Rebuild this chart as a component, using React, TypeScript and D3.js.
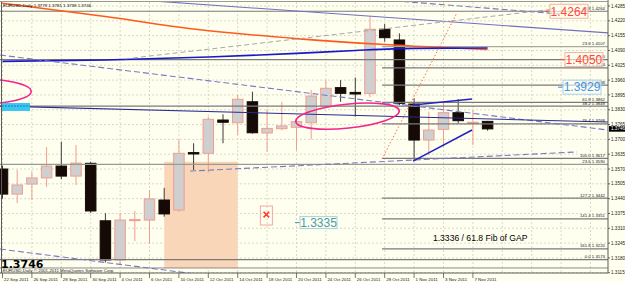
import React from 'react';
import * as d3 from 'd3';

const W = 625;
const H = 282;

// ---- data ----
const barDates = ['22 Sep','23 Sep','26 Sep','27 Sep','28 Sep','29 Sep','30 Sep','3 Oct','4 Oct','5 Oct','6 Oct','7 Oct','10 Oct','11 Oct','12 Oct','13 Oct','14 Oct','17 Oct','18 Oct','19 Oct','20 Oct','21 Oct','24 Oct','25 Oct','26 Oct','27 Oct','28 Oct','31 Oct','1 Nov','2 Nov','3 Nov','4 Nov','7 Nov','8 Nov'];
const opens = [1.3570,1.3460,1.3504,1.3531,1.3583,1.3539,1.3595,1.3343,1.3171,1.3344,1.3346,1.3434,1.3390,1.3642,1.3639,1.3785,1.3773,1.3865,1.3728,1.3747,1.3753,1.3773,1.3846,1.3927,1.3906,1.3902,1.4183,1.4136,1.3855,1.3697,1.3744,1.3817,1.3772,1.3779];
const highs = [1.3585,1.3566,1.3557,1.3667,1.3690,1.3675,1.3602,1.3376,1.3377,1.3386,1.3478,1.3487,1.3700,1.3683,1.3799,1.3810,1.3895,1.3909,1.3832,1.3865,1.3790,1.3917,1.3960,1.3960,1.3971,1.4241,1.4206,1.4165,1.3880,1.3821,1.3861,1.3876,1.3829,1.3781];
const lows = [1.3440,1.3420,1.3434,1.3491,1.3526,1.3500,1.3377,1.3160,1.3150,1.3254,1.3241,1.3361,1.3382,1.3566,1.3554,1.3683,1.3719,1.3725,1.3646,1.3740,1.3653,1.3700,1.3838,1.3865,1.3800,1.3885,1.4128,1.3850,1.3605,1.3632,1.3668,1.3770,1.3675,1.3738];
const closes = [1.3460,1.3500,1.3531,1.3583,1.3539,1.3596,1.3386,1.3171,1.3346,1.3348,1.3439,1.3373,1.3639,1.3636,1.3788,1.3775,1.3876,1.3729,1.3748,1.3759,1.3778,1.3890,1.3924,1.3902,1.3899,1.4183,1.4146,1.3858,1.3697,1.3741,1.3817,1.3782,1.3775,1.3746];

const redMaIdx = [0, 7, 13, 20, 26, 33];
const redMaVal = [1.4297, 1.4239, 1.4184, 1.4142, 1.4116, 1.4094];
const blueMaIdx = [0, 7, 14, 20, 24, 28, 33];
const blueMaVal = [1.4042, 1.4048, 1.4061, 1.4077, 1.4090, 1.4099, 1.4101];

const timeLabelIdx = [0,2,4,6,8,10,12,14,16,18,20,22,24,26,28,30,32];
const timeLabels = ['22 Sep 2011','26 Sep 2011','28 Sep 2011','30 Sep 2011','4 Oct 2011','6 Oct 2011','10 Oct 2011','12 Oct 2011','14 Oct 2011','18 Oct 2011','20 Oct 2011','24 Oct 2011','26 Oct 2011','28 Oct 2011','1 Nov 2011','3 Nov 2011','7 Nov 2011'];
const gridIdx = [0,2,4,6,8,10,12,14,16,18,20,22,24,26,28,30,32,34,36,38,40];
const priceTicks = [1.4285,1.4220,1.4155,1.4090,1.4025,1.3960,1.3895,1.3830,1.3765,1.3700,1.3635,1.3570,1.3505,1.3440,1.3375,1.3310,1.3245,1.3180,1.3115];

const fullLevelLabels = ['61.8 1.4264','50.0 1.4050','38.2 1.3849','23.6 1.3590','0.0 1.3173'];
const fullLevelPrices = [1.4262, 1.4050, 1.3846, 1.3590, 1.3173];
const fibStartIdx = 25.82;
const fibLabels = ['23.6 1.4107','38.2 1.4014','50.0 1.3938','61.8 1.3862','76.4 1.3768','100.0 1.3617','127.2 1.3442','141.4 1.3351','161.8 1.3220'];
const fibPrices = [1.4107, 1.4014, 1.3938, 1.3862, 1.3768, 1.3617, 1.3442, 1.3351, 1.3220];
const plainLevelPrices = [1.3136];

// trend lines: [i1, p1, i2, p2]
const trendUpperSolid = [9.35, 1.4311, 41.19, 1.4167];
const trendChannelUpper = [-0.17, 1.4070, 41.19, 1.3741];
const trendChannelLower = [-0.17, 1.3219, 13.44, 1.3107];
const trendLowerDashed = [12.76, 1.3561, 39.08, 1.3645];
const trendMid = [-0.17, 1.3846, 41.19, 1.3776];
const trendGrayRising = [8.33, 1.4053, 37.59, 1.4272];
const trendTopDashed = [26.02, 1.4311, 37.93, 1.4250];
const chanUp = [27.93, 1.3851, 31.94, 1.3877];
const chanLow = [27.93, 1.3605, 31.94, 1.3741];
const fibDiagonal = [25.82, 1.3614, 30.92, 1.4256];

// ellipses: [centerIdx, centerPrice, rxBars, ryPrice, rotationDeg]
const ellipseLeft = [-2.0, 1.3910, 3.95, 0.0057, 0];
const ellipseMid = [23.47, 1.3802, 3.54, 0.00526, -6];

// rectangle zone [i1, i2, pTop, pBottom]
const zoneRect = [11, 16, 1.3602, 1.3136];

// price label boxes
const boxTexts = ['1.4264', '1.4050', '1.3929', '1.3335'];
const boxIdx = [37.24, 38.26, 38.13, 20.24];
const boxPrices = [1.4262, 1.4050, 1.3929, 1.3335];

const markIdx = 17.95;
const markPrice = 1.3366;
const gapText = '1.3336 / 61.8 Fib of GAP';
const gapIdx = 29.28;
const gapPrice = 1.3254;
const cyanPrice = 1.3842;
const lastPrice = 1.3746;
const titleText = 'EURUSD,Daily  1.3779 1.3781 1.3738 1.3746';
const copyrightText = 'EURUSD,Daily \u00A9 2001-2011 MetaQuotes Software Corp.';

const FONT = 'Liberation Sans, Arial, sans-serif';

export default function App() {
  const L = 0, R = 608, T = 2, B = 273;
  const x = d3.scaleLinear().domain([0, 33]).range([2.5, 2.5 + 14.7 * 33]);
  const y = d3.scaleLinear().domain([1.3115, 1.4285]).range([272.76, 6]);
  const bw = 10.5;
  const seg = (t: number[]) => d3.line<number[]>().x(d => x(d[0])).y(d => y(d[1]))([[t[0], t[1]], [t[2], t[3]]]) || '';
  const ma = (idx: number[], val: number[]) =>
    d3.line<number>().x((_, k) => x(idx[k])).y(d => y(d)).curve(d3.curveMonotoneX)(val) || '';

  const ellipse = (e: number[], key: string) => {
    const cx = x(e[0]), cy = y(e[1]);
    const rx = x(e[0] + e[2]) - cx;
    const ry = y(e[1] - e[3]) - cy;
    return <ellipse key={key} cx={cx} cy={cy} rx={rx} ry={ry} transform={`rotate(${e[4]} ${cx} ${cy})`} fill="none" stroke="#F2268C" strokeWidth={1.6} />;
  };

  const boxStyles = [
    { color: '#FF4A3A', border: '#F6B0A4' },
    { color: '#FF4A3A', border: '#F6B0A4' },
    { color: '#3A94EE', border: '#A6CCF4' },
    { color: '#4A9AA8', border: '#A6D2DA' },
  ];

  return (
    <div style={{ position: 'absolute', left: 0, top: 0 }}>
      <svg width={W} height={H} style={{ display: 'block', background: '#FFFFF0' }} fontFamily={FONT}>
        <defs>
          <clipPath id="plot">
            <rect x={L} y={T} width={R - L} height={B - T} />
          </clipPath>
        </defs>
        <rect x={0} y={0} width={W} height={H} fill="#FFFFF0" />
        <g clipPath="url(#plot)">
          {/* grid */}
          {gridIdx.map(i => (
            <line key={'gx' + i} x1={x(i)} x2={x(i)} y1={T} y2={B} stroke="#CFCFC0" strokeWidth={0.8} strokeDasharray="2,2" />
          ))}
          {priceTicks.map(p => (
            <line key={'gy' + p} x1={L} x2={R} y1={y(p)} y2={y(p)} stroke="#CFCFC0" strokeWidth={0.8} strokeDasharray="2,2" />
          ))}
          {/* zone */}
          <rect x={x(zoneRect[0])} y={y(zoneRect[2])} width={x(zoneRect[1]) - x(zoneRect[0])} height={y(zoneRect[3]) - y(zoneRect[2])} fill="#FAD6B8" />
          {/* candles */}
          {opens.map((o, i) => {
            const c = closes[i];
            const bull = c >= o;
            const cx = x(i);
            const top = y(Math.max(o, c));
            const bot = y(Math.min(o, c));
            const h = Math.max(1, bot - top);
            return (
              <g key={'c' + barDates[i]}>
                <line x1={cx} x2={cx} y1={y(highs[i])} y2={y(lows[i])} stroke={bull ? '#F29C90' : '#3A3A3A'} strokeWidth={1} />
                <rect x={cx - bw / 2} y={top} width={bw} height={h} fill={bull ? '#CFCFCF' : '#150A05'} stroke={bull ? '#F29C90' : '#150A05'} strokeWidth={1} />
              </g>
            );
          })}
          {/* horizontal levels */}
          {fullLevelPrices.map((p, k) => (
            <line key={'fl' + k} x1={L} x2={R} y1={y(p)} y2={y(p)} stroke={k === 3 ? '#9A9A94' : '#7A7A7A'} strokeWidth={1.2} />
          ))}
          {plainLevelPrices.map((p, k) => (
            <line key={'pl' + k} x1={L} x2={R} y1={y(p)} y2={y(p)} stroke="#8A8A8A" strokeWidth={1} />
          ))}
          {fibPrices.map((p, k) => (
            <line key={'fb' + k} x1={x(fibStartIdx)} x2={R} y1={y(p)} y2={y(p)} stroke={k === 0 ? '#A8A8A0' : '#7A7A7A'} strokeWidth={1.2} />
          ))}
          {/* moving averages */}
          <path d={ma(redMaIdx, redMaVal)} fill="none" stroke="#FF5A1E" strokeWidth={1.6} />
          <path d={ma(blueMaIdx, blueMaVal)} fill="none" stroke="#1818C8" strokeWidth={1.6} />
          {/* trend lines */}
          <path d={seg(trendUpperSolid)} stroke="#7070C0" strokeWidth={1.1} fill="none" />
          <path d={seg(trendChannelUpper)} stroke="#7A7AC4" strokeWidth={1.1} strokeDasharray="6,3" fill="none" />
          <path d={seg(trendChannelLower)} stroke="#7A7AC4" strokeWidth={1.1} strokeDasharray="6,3" fill="none" />
          <path d={seg(trendLowerDashed)} stroke="#7A7AC4" strokeWidth={1.1} strokeDasharray="6,3" fill="none" />
          <path d={seg(trendMid)} stroke="#2A2A92" strokeWidth={1.1} fill="none" />
          <path d={seg(trendGrayRising)} stroke="#A8A8A8" strokeWidth={1} strokeDasharray="5,3" fill="none" />
          <path d={seg(trendTopDashed)} stroke="#7A7AC4" strokeWidth={1.1} strokeDasharray="6,3" fill="none" />
          <path d={seg(chanUp)} stroke="#2222C4" strokeWidth={1.5} fill="none" />
          <path d={seg(chanLow)} stroke="#2222C4" strokeWidth={1.5} fill="none" />
          <path d={seg(fibDiagonal)} stroke="#FF6A4A" strokeWidth={1} strokeDasharray="1.5,2" fill="none" />
          {/* ellipses */}
          {ellipse(ellipseLeft, 'e1')}
          {ellipse(ellipseMid, 'e2')}
          {/* cyan box */}
          <rect x={L + 2} y={y(cyanPrice) - 4} width={28} height={8} fill="#3CC6F2" />
          <line x1={L + 2} x2={L + 30} y1={y(cyanPrice) - 1} y2={y(cyanPrice) - 1} stroke="#1A78B8" strokeWidth={1} strokeDasharray="2,1" />
          {/* level labels */}
          {fullLevelLabels.map((t, k) => (
            <text key={'flt' + k} x={R - 3} y={y(fullLevelPrices[k]) - 1.5} fontSize={4.3} textAnchor="end" fill="#202020">{t}</text>
          ))}
          {fibLabels.map((t, k) => (
            <text key={'fbt' + k} x={R - 3} y={y(fibPrices[k]) - 1.5} fontSize={4.3} textAnchor="end" fill="#202020">{t}</text>
          ))}
          {/* price boxes */}
          {boxTexts.map((t, k) => {
            const bx = x(boxIdx[k]);
            const by = y(boxPrices[k]);
            const st = boxStyles[k];
            const bwid = k === 3 ? 37 : 38;
            const bh = k === 3 ? 12 : 14;
            return (
              <g key={'bx' + k}>
                <line x1={bx - 5} x2={bx} y1={by} y2={by} stroke={st.color} strokeWidth={1} />
                <rect x={bx} y={by - bh / 2} width={bwid} height={bh} fill="#FFFFF0" fillOpacity={0.6} stroke={st.border} strokeWidth={1} />
                <text x={bx + bwid / 2} y={by + 4.3} fontSize={12} textAnchor="middle" fill={st.color}>{t}</text>
              </g>
            );
          })}
          {/* red x marker */}
          <rect x={x(markIdx) - 6} y={y(markPrice) - 9.5} width={12} height={19} fill="none" stroke="#F4A4A0" strokeWidth={1} />
          <path d={`M${x(markIdx) - 2.8},${y(markPrice) - 3.8}L${x(markIdx) + 2.8},${y(markPrice) + 1.8}M${x(markIdx) + 2.8},${y(markPrice) - 3.8}L${x(markIdx) - 2.8},${y(markPrice) + 1.8}`} stroke="#FF3A2A" strokeWidth={1.6} />
          {/* gap text */}
          <text x={x(gapIdx)} y={y(gapPrice)} fontSize={8.6} fill="#000">{gapText}</text>
          {/* title */}
          <text x={3} y={7} fontSize={4.4} fill="#000">{titleText}</text>
          {/* big price */}
          <text x={1} y={268} fontSize={11} fontWeight="bold" fontFamily="DejaVu Sans, Verdana, sans-serif" fill="#000">{lastPrice.toFixed(4)}</text>
          <text x={3} y={272} fontSize={4.4} fill="#202020">{copyrightText}</text>
        </g>
        {/* frame */}
        <line x1={R} x2={R} y1={0} y2={B} stroke="#5A5A5A" strokeWidth={1} />
        <line x1={L} x2={R} y1={B} y2={B} stroke="#5A5A5A" strokeWidth={1} />
        <line x1={1.5} x2={1.5} y1={T} y2={B} stroke="#5A5A5A" strokeWidth={1} />
        <line x1={L} x2={R} y1={1.5} y2={1.5} stroke="#9A9A9A" strokeWidth={1} />
        {/* right axis */}
        {priceTicks.map(p => (
          <g key={'pt' + p}>
            <line x1={R} x2={R + 2} y1={y(p)} y2={y(p)} stroke="#404040" strokeWidth={0.8} />
            <text x={R + 3} y={y(p) + 1.6} fontSize={4.6} fill="#202020">{p.toFixed(4)}</text>
          </g>
        ))}
        <rect x={R + 1} y={y(lastPrice) - 2.8} width={16} height={5.6} fill="#000" />
        <text x={R + 3} y={y(lastPrice) + 1.6} fontSize={4.6} fill="#FFF">{lastPrice.toFixed(4)}</text>
        {/* time axis */}
        {timeLabelIdx.map((i, k) => (
          <g key={'tl' + i}>
            <line x1={x(i)} x2={x(i)} y1={B} y2={B + 5} stroke="#404040" strokeWidth={0.7} />
            <text x={x(i) + 1.5} y={B + 7.5} fontSize={4.4} fill="#202020">{timeLabels[k]}</text>
          </g>
        ))}
      </svg>
    </div>
  );
}
